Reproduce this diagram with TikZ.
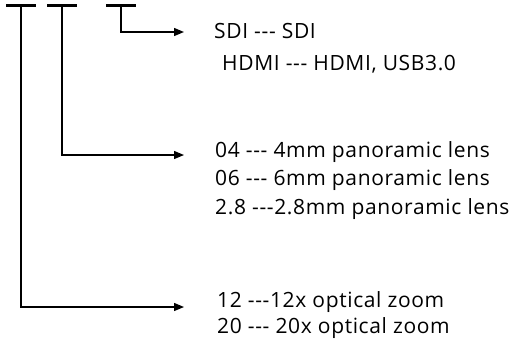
\documentclass[tikz,border=0pt]{standalone}
\usepackage{fontspec}
\setmainfont{Open Sans}[LetterSpace=3]
\usetikzlibrary{arrows.meta,positioning}
\newcommand{\ddd}{-{}-{}-}

\begin{document}
\begin{tikzpicture}[
  x=1pt, y=-1pt,
  codebar/.style={fill=black, inner sep=0pt, minimum width=30pt, minimum height=3pt},
  arrow/.style={-{Triangle[length=10pt,width=8pt]}, line width=1.3pt},
  txt/.style={anchor=base west, inner sep=0pt, font=\fontsize{21}{24}\selectfont}
]
\useasboundingbox (0,0) rectangle (516,338);

%% Code bars at the top
\node[codebar] (zoom) at (21,5)  {};
\node[codebar] (lens) at (62,5)  {};
\node[codebar] (port) at (121,5) {};

%% Arrow ends
\coordinate (a3) at (184,32);
\coordinate (a2) at (184,155);
\coordinate (a1) at (184,307);

%% Texts
\node[txt] (sdi)  at (214,38.5)  {SDI \ddd{} SDI};
\node[txt] (hdmi) at (222,70.5)  {HDMI \ddd{} HDMI, USB3.0};
\node[txt] (l04)  at (215,157)   {04 \ddd{} 4mm panoramic lens};
\node[txt] (l06)  at (215,185.5) {06 \ddd{} 6mm panoramic lens};
\node[txt] (l28)  at (215,214.5) {2.8 \ddd2.8mm panoramic lens};
\node[txt] (z12)  at (217,307.5) {12 \ddd12x optical zoom};
\node[txt] (z20)  at (217,333)   {20 \ddd{} 20x optical zoom};

%% Arrows
\draw[arrow] (port.south) |- (a3);
\draw[arrow] (lens.south) |- (a2);
\draw[arrow] (zoom.south) |- (a1);

\end{tikzpicture}
\end{document}
